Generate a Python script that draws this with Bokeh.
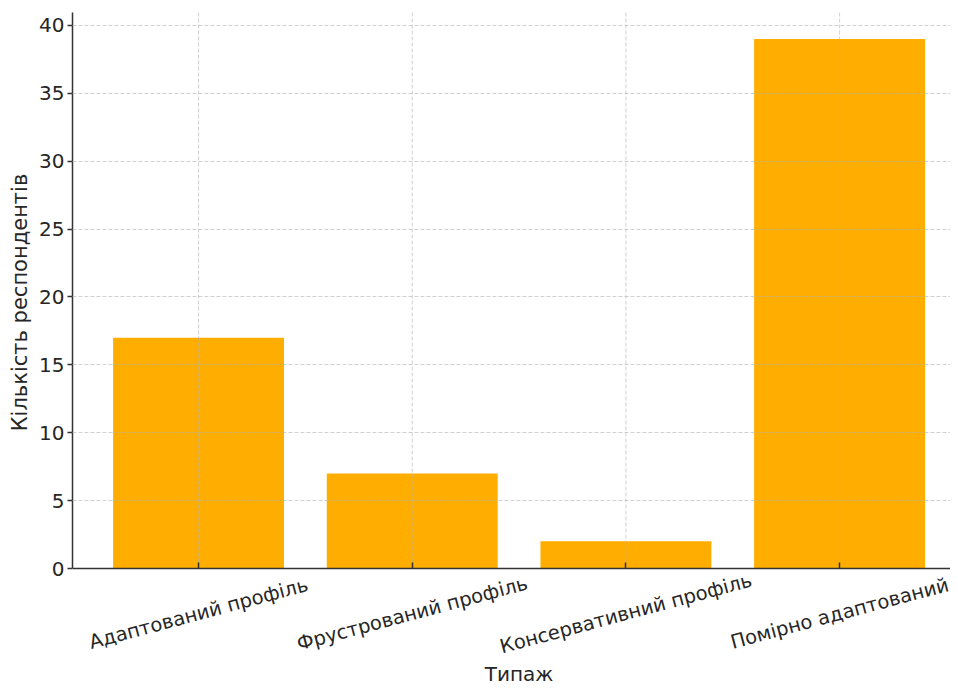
from bokeh.plotting import figure
from bokeh.models import Range1d, FixedTicker, ColumnDataSource
from bokeh.layouts import row
from bokeh.core.properties import value
from bokeh.embed import file_html
from bokeh.resources import INLINE

categories = ["Адаптований профіль", "Фрустрований профіль", "Консервативний профіль", "Помірно адаптований"]
counts = [17, 7, 2, 39]
y_ticks = [0, 5, 10, 15, 20, 25, 30, 35, 40]
x_title = "Типаж"
y_title = "Кількість респондентів"

FONT = "DejaVu Sans"
TXT = "#262626"
GRID = "#b0b0b0"
xs = list(range(len(categories)))

# layout geometry (pixels)
FRAME_W, FRAME_H = 878, 673       # plot frame incl. label area under the axis
PLOT_H = 556                      # height of the value area (0 .. ymax)
YMAX = 40.95
PX = PLOT_H / YMAX                # pixels per unit
Y_START = YMAX - FRAME_H / PX

p = figure(frame_width=FRAME_W, frame_height=FRAME_H, output_backend="svg", toolbar_location=None,
           x_range=Range1d(-0.59, 3.519), y_range=Range1d(Y_START, YMAX),
           min_border_left=36, min_border_right=0, min_border_top=12, min_border_bottom=0)
p.outline_line_color = None
p.background_fill_color = "white"
p.border_fill_color = "white"

p.vbar(x=xs, top=counts, width=0.8, fill_color="#FFAE00", line_color=None)

# vertical grid lines only over the value area
p.xgrid.visible = False
p.segment(x0=xs, y0=[0] * len(xs), x1=xs, y1=[YMAX] * len(xs),
          line_color=GRID, line_alpha=0.6, line_dash="4 2", line_width=1)

p.ygrid.ticker = FixedTicker(ticks=[t for t in y_ticks if t > 0])
p.ygrid.grid_line_color = GRID
p.ygrid.grid_line_alpha = 0.6
p.ygrid.grid_line_dash = "4 2"
p.ygrid.grid_line_width = 1
p.ygrid.level = "overlay"

p.xaxis.ticker = FixedTicker(ticks=xs)
p.xaxis.fixed_location = 0
p.xaxis.major_label_overrides = {x: "" for x in xs}
p.xaxis.major_tick_in = 6
p.xaxis.major_tick_out = 0
p.xaxis.minor_tick_line_color = None

p.yaxis.ticker = FixedTicker(ticks=y_ticks)
p.yaxis.bounds = (0, YMAX)
p.yaxis.major_tick_in = 0
p.yaxis.major_tick_out = 5
p.yaxis.minor_tick_line_color = None
p.yaxis.major_label_standoff = 3
p.yaxis.major_label_text_font_size = "20px"

for ax in (p.xaxis, p.yaxis):
    ax.axis_line_color = "#333333"
    ax.axis_line_width = 1.5
    ax.major_tick_line_color = "#333333"
    ax.major_tick_line_width = 1.5
    ax.major_label_text_font = FONT
    ax.major_label_text_color = TXT

# category labels under the axis, rotated and centred on each bar
src = ColumnDataSource(dict(x=xs, y=[-45 / PX] * len(xs), text=categories))
p.text(x="x", y="y", text="text", source=src, angle=15, angle_units="deg",
       text_align="center", text_baseline="middle",
       text_font=value(FONT), text_font_size=value("19.5px"), text_color=TXT)

# x title
tsrc = ColumnDataSource(dict(x=[(len(categories) - 1) / 2], y=[-105 / PX], text=[x_title]))
p.text(x="x", y="y", text="text", source=tsrc,
       text_align="center", text_baseline="middle",
       text_font=value(FONT), text_font_size=value("20px"), text_color=TXT)

# narrow strip on the left holding the y title, centred on the value area
LW = 36
total_h = 12 + FRAME_H
pl = figure(frame_width=LW, frame_height=total_h, output_backend="svg", toolbar_location=None,
            x_range=Range1d(0, LW), y_range=Range1d(0, total_h),
            x_axis_location=None, y_axis_location=None,
            min_border_left=0, min_border_right=0, min_border_top=0, min_border_bottom=0)
pl.outline_line_color = None
pl.grid.visible = False
pl.background_fill_color = "white"
pl.border_fill_color = "white"
ysrc = ColumnDataSource(dict(x=[19], y=[total_h - (12 + PLOT_H / 2)], text=[y_title]))
pl.text(x="x", y="y", text="text", source=ysrc, angle=90, angle_units="deg",
        text_align="center", text_baseline="middle",
        text_font=value(FONT), text_font_size=value("21px"), text_color=TXT)

layout = row(pl, p, spacing=0)
open("out.html", "w").write(file_html(layout, INLINE))
